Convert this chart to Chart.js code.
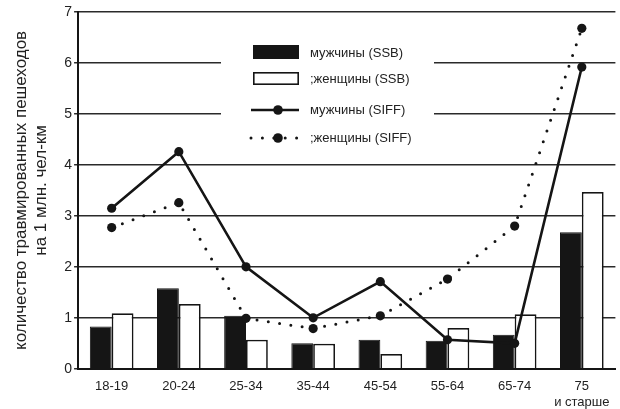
<!DOCTYPE html>
<html>
<head>
<meta charset="utf-8">
<script src="https://cdn.jsdelivr.net/npm/chart.js@4.4.1/dist/chart.umd.min.js"></script>
<style>
    html, body { margin: 0; padding: 0; background: #fff; overflow: hidden; }
    #chart { display: block; }
</style>
</head>
<body>
<canvas id="chart" width="620" height="409"></canvas>
<script>
// age groups
const ageGroups = ['18-19', '20-24', '25-34', '35-44', '45-54', '55-64', '65-74', ['75', 'и старше']];

// injured pedestrians per 1 mln person-km
const menSSB = [0.83, 1.58, 1.04, 0.50, 0.57, 0.55, 0.67, 2.68];
const womenSSB = [1.09, 1.27, 0.57, 0.49, 0.29, 0.80, 1.07, 3.47];
const menSIFF = [3.15, 4.26, 2.00, 1.00, 1.71, 0.57, 0.50, 5.92];
const womenSIFF = [2.77, 3.26, 0.99, 0.79, 1.04, 1.76, 2.80, 6.68];

const yTitle = ['количество травмированных пешеходов', 'на 1 млн. чел-км'];
const legendLabels = ['мужчины (SSB)', ';женщины (SSB)', 'мужчины (SIFF)', ';женщины (SIFF)'];

const ink = '#151515';
const textColor = '#222';
const fontFamily = '"Liberation Sans", Arial, Helvetica, sans-serif';

Chart.defaults.font.family = fontFamily;
Chart.defaults.color = textColor;

// legend drawn inside the plot on a white box (covers the grid lines)
const boxLegend = {
    id: 'boxLegend',
    beforeDatasetsDraw(chart) {
        const c = chart.ctx;
        c.save();
        c.fillStyle = '#fff';
        c.fillRect(221, 24, 213, 128);

        // bar swatches
        c.fillStyle = ink;
        c.fillRect(253, 45, 46, 14);
        c.fillStyle = '#fff';
        c.strokeStyle = ink;
        c.lineWidth = 1.6;
        c.fillRect(253, 72, 46, 13);
        c.strokeRect(253.8, 72.8, 44.4, 11.4);

        // solid line swatch
        c.lineWidth = 2.6;
        c.beginPath();
        c.moveTo(251, 110);
        c.lineTo(299, 110);
        c.stroke();
        c.fillStyle = ink;
        c.beginPath();
        c.arc(278, 110, 4.8, 0, Math.PI * 2);
        c.fill();

        // dotted line swatch
        c.setLineDash([0, 11.4]);
        c.lineCap = 'round';
        c.lineWidth = 3;
        c.beginPath();
        c.moveTo(251, 138);
        c.lineTo(300, 138);
        c.stroke();
        c.setLineDash([]);
        c.beginPath();
        c.arc(278, 138, 4.8, 0, Math.PI * 2);
        c.fill();

        c.fillStyle = textColor;
        c.font = '13px ' + fontFamily;
        c.textBaseline = 'middle';
        c.textAlign = 'left';
        [53, 79, 110, 138].forEach((y, i) => c.fillText(legendLabels[i], 310, y));
        c.restore();
    }
};

new Chart(document.getElementById('chart'), {
    type: 'bar',
    data: {
        labels: ageGroups,
        datasets: [
            {
                type: 'line',
                label: legendLabels[2],
                data: menSIFF,
                borderColor: ink,
                borderWidth: 2.6,
                pointRadius: 4.6,
                pointBackgroundColor: ink,
                pointBorderColor: ink,
                pointBorderWidth: 0,
                tension: 0,
                order: 0
            },
            {
                type: 'line',
                label: legendLabels[3],
                data: womenSIFF,
                borderColor: ink,
                borderWidth: 3,
                borderDash: [0, 11.4],
                borderCapStyle: 'round',
                pointRadius: 4.6,
                pointBackgroundColor: ink,
                pointBorderColor: ink,
                pointBorderWidth: 0,
                tension: 0,
                order: 1
            },
            {
                label: legendLabels[0],
                data: menSSB,
                backgroundColor: ink,
                borderColor: ink,
                borderWidth: 1,
                categoryPercentage: 0.65,
                barPercentage: 1.0,
                order: 2
            },
            {
                label: legendLabels[1],
                data: womenSSB,
                backgroundColor: '#fff',
                borderColor: ink,
                borderWidth: 1.7,
                categoryPercentage: 0.65,
                barPercentage: 1.0,
                order: 2
            }
        ]
    },
    options: {
        responsive: false,
        animation: false,
        // plot runs off the right edge in the original picture
        layout: { padding: { left: 0, top: 12, right: 0, bottom: -1 } },
        plugins: {
            legend: { display: false },
            tooltip: { enabled: false }
        },
        scales: {
            x: {
                // invisible tick marks push labels down without widening the right padding
                grid: { drawOnChartArea: false, drawTicks: true, tickLength: 10, tickColor: 'rgba(0,0,0,0)' },
                border: { color: ink, width: 2 },
                ticks: {
                    padding: 0,
                    color: textColor,
                    font: { size: 13 },
                    maxRotation: 0,
                    autoSkip: false
                }
            },
            y: {
                min: 0,
                max: 7,
                border: { color: ink, width: 2 },
                grid: { color: '#2a2a2a', lineWidth: 1.5, tickLength: 4 },
                ticks: {
                    stepSize: 1,
                    padding: 2,
                    color: textColor,
                    font: { size: 14 }
                },
                title: {
                    display: true,
                    text: yTitle,
                    color: textColor,
                    font: { size: 17, lineHeight: 1.2 },
                    padding: { top: 11, bottom: 10.5 }
                }
            }
        }
    },
    plugins: [boxLegend]
});
</script>
</body>
</html>
